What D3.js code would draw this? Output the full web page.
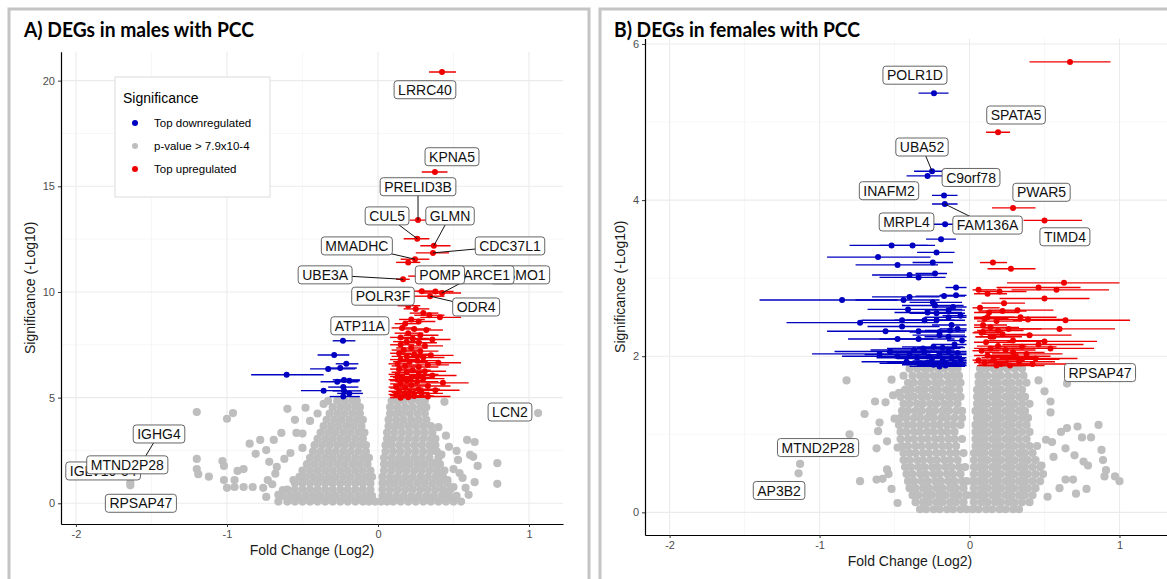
<!DOCTYPE html>
<html>
<head>
<meta charset="utf-8">
<script src="https://cdn.jsdelivr.net/npm/d3@7"></script>
<style>
body { margin: 0; background: #fff; }
svg { display: block; }
</style>
</head>
<body>
<svg id="chart" width="1167" height="579"></svg>
<script>
// ---------- data ----------
// colored genes: [fold change, significance, CI low, CI high]
const redA = [
  [0.424,20.41,0.338,0.517],[0.377,15.68,0.29,0.46],[0.265,13.4,0.21,0.325],[0.26,12.52,0.17,0.34],
  [0.37,12.19,0.28,0.48],[0.364,11.85,0.25,0.47],[0.245,11.55,0.15,0.34],[0.2,11.4,0.12,0.28],
  [0.166,10.6,0.12,0.21],[0.29,10.04,0.2,0.37],[0.345,9.8,0.24,0.44],[0.424,9.95,0.3,0.55],
  [0.38,10.02,0.26,0.5],[0.3,10.75,0.2,0.4],
  [0.2,9.35,0.13,0.28],[0.25,9.2,0.17,0.34],[0.3,9.0,0.21,0.4],[0.34,8.9,0.24,0.44],[0.41,8.8,0.28,0.55],
  [0.22,8.7,0.14,0.31],[0.27,8.6,0.17,0.38],[0.18,8.5,0.11,0.27],[0.16,8.3,0.09,0.25],[0.24,8.25,0.14,0.35],
  [0.32,8.2,0.22,0.43],[0.2,8.05,0.11,0.3],[0.28,7.95,0.17,0.4],[0.15,7.85,0.08,0.23],[0.23,7.8,0.13,0.34],
  [0.36,7.75,0.24,0.48],[0.19,7.65,0.1,0.29],[0.27,7.6,0.16,0.39],[0.15,7.5,0.08,0.24],[0.31,7.45,0.2,0.43],
  [0.22,7.35,0.12,0.33],[0.17,7.25,0.09,0.27],[0.28,7.2,0.17,0.4],[0.14,7.1,0.08,0.22],[0.24,7.05,0.13,0.36],
  [0.35,7.0,0.22,0.5],[0.19,6.95,0.09,0.3],[0.3,6.9,0.18,0.44],[0.15,6.8,0.08,0.25],[0.26,6.75,0.14,0.39],
  [0.21,6.7,0.1,0.33],[0.4,6.65,0.26,0.55],[0.13,6.6,0.07,0.21],[0.33,6.55,0.2,0.47],[0.18,6.5,0.09,0.29],
  [0.27,6.45,0.15,0.4],[0.14,6.35,0.08,0.24],[0.23,6.3,0.12,0.35],[0.31,6.25,0.18,0.45],[0.19,6.2,0.09,0.31],
  [0.13,6.1,0.07,0.21],[0.27,6.1,0.15,0.4],[0.36,6.05,0.22,0.52],[0.16,6.0,0.08,0.27],[0.22,5.95,0.1,0.35],
  [0.3,5.9,0.17,0.44],[0.13,5.85,0.07,0.23],[0.19,5.8,0.08,0.31],[0.26,5.75,0.13,0.4],[0.43,5.7,0.28,0.6],
  [0.15,5.65,0.08,0.26],[0.22,5.6,0.1,0.35],[0.33,5.55,0.19,0.48],[0.12,5.5,0.07,0.2],[0.18,5.45,0.08,0.3],
  [0.27,5.4,0.14,0.41],[0.38,5.35,0.23,0.54],[0.14,5.3,0.07,0.25],[0.21,5.25,0.09,0.34],[0.29,5.2,0.16,0.43],
  [0.12,5.15,0.07,0.21],[0.17,5.1,0.08,0.28],[0.24,5.08,0.12,0.37],[0.33,5.05,0.19,0.48],[0.2,5.02,0.09,0.32],
  [0.15,5.0,0.08,0.25]
];
const blueA = [
  [-0.232,7.69,-0.3,-0.15],[-0.29,7.02,-0.4,-0.19],[-0.21,6.6,-0.28,-0.13],[-0.33,6.36,-0.45,-0.15],
  [-0.25,6.4,-0.34,-0.14],[-0.605,6.08,-0.84,-0.36],[-0.27,5.75,-0.38,-0.13],[-0.225,5.84,-0.3,-0.12],
  [-0.19,5.8,-0.26,-0.12],[-0.36,5.33,-0.51,-0.23],[-0.23,5.5,-0.33,-0.13],[-0.225,5.32,-0.3,-0.11],
  [-0.19,5.2,-0.27,-0.1],[-0.23,5.05,-0.32,-0.12]
];
// grey genes, dense core per row: [significance, [fold changes]]
const greyRowsA = [
  [0.08,[-0.66,-0.6,-0.55,-0.5,-0.45,-0.4,-0.35,-0.3,-0.25,-0.2,-0.15,-0.1,-0.06,-0.02,0.02,0.06,0.1,0.15,0.2,0.25,0.3,0.35,0.4,0.45,0.5,0.55]],
  [0.35,[-0.63,-0.58,-0.53,-0.48,-0.43,-0.38,-0.33,-0.28,-0.23,-0.18,-0.13,-0.08,-0.04,0.03,0.07,0.12,0.17,0.22,0.27,0.32,0.37,0.42,0.47,0.52]],
  [0.65,[-0.6,-0.55,-0.5,-0.45,-0.4,-0.35,-0.3,-0.25,-0.2,-0.15,-0.1,-0.05,0.03,0.08,0.13,0.18,0.23,0.28,0.33,0.38,0.43,0.48]],
  [0.95,[-0.55,-0.5,-0.45,-0.4,-0.35,-0.3,-0.25,-0.2,-0.15,-0.1,-0.05,0.03,0.07,0.11,0.16,0.21,0.26,0.31,0.36,0.41,0.46]],
  [1.25,[-0.52,-0.48,-0.43,-0.38,-0.33,-0.28,-0.23,-0.18,-0.13,-0.08,-0.04,0.03,0.08,0.13,0.18,0.23,0.28,0.33,0.38,0.43]],
  [1.55,[-0.5,-0.45,-0.4,-0.35,-0.3,-0.25,-0.2,-0.15,-0.1,-0.05,0.04,0.09,0.14,0.19,0.24,0.29,0.34,0.39,0.44]],
  [1.85,[-0.47,-0.42,-0.37,-0.32,-0.27,-0.22,-0.17,-0.12,-0.07,0.04,0.08,0.12,0.16,0.21,0.26,0.31,0.36,0.41]],
  [2.15,[-0.45,-0.4,-0.35,-0.3,-0.25,-0.2,-0.15,-0.1,-0.06,0.04,0.09,0.14,0.19,0.24,0.29,0.34,0.4]],
  [2.45,[-0.43,-0.38,-0.33,-0.28,-0.23,-0.18,-0.13,-0.08,0.05,0.1,0.15,0.2,0.25,0.3,0.35,0.39]],
  [2.75,[-0.42,-0.37,-0.32,-0.27,-0.22,-0.17,-0.12,-0.08,0.05,0.09,0.14,0.19,0.24,0.29,0.34,0.38]],
  [3.05,[-0.4,-0.35,-0.3,-0.25,-0.2,-0.15,-0.1,0.06,0.1,0.15,0.2,0.25,0.3,0.35,0.38]],
  [3.35,[-0.38,-0.33,-0.28,-0.23,-0.18,-0.13,-0.09,0.06,0.11,0.16,0.21,0.26,0.31,0.36]],
  [3.65,[-0.36,-0.31,-0.26,-0.21,-0.16,-0.11,0.07,0.11,0.15,0.2,0.25,0.3,0.35]],
  [3.95,[-0.34,-0.29,-0.24,-0.19,-0.14,-0.1,0.07,0.12,0.17,0.22,0.27,0.32]],
  [4.25,[-0.32,-0.27,-0.22,-0.17,-0.12,0.08,0.12,0.16,0.21,0.26,0.31]],
  [4.55,[-0.3,-0.25,-0.2,-0.15,-0.12,0.08,0.13,0.18,0.23,0.28,0.32]],
  [4.85,[-0.33,-0.27,-0.22,-0.17,-0.14,0.09,0.13,0.17,0.22,0.27,0.31]]
];
const greyOutA = [
  [-1.2,4.32],[-1.0,4.0],[-0.96,4.27],[-0.6,4.47],[-0.55,3.95],[-0.48,4.52],[-0.36,4.7],[-0.64,3.33],
  [-0.54,3.33],[-0.85,2.82],[-0.78,3.0],[-0.69,3.0],[-0.74,2.52],[-0.81,2.34],[-1.2,2.1],[-1.03,2.0],
  [-1.2,1.62],[-1.19,1.38],[-1.12,1.26],[-1.02,1.77],[-0.93,1.53],[-0.89,1.62],[-1.02,1.1],[-0.95,1.1],
  [-1.0,0.73],[-0.95,0.77],[-0.89,0.77],[-0.83,0.77],[-0.76,0.73],[-0.74,0.3],[-0.73,1.1],[-0.72,1.96],
  [-0.67,1.72],[-0.63,0.63],[-0.56,1.1],[-0.58,2.38],[-0.5,2.62],[-0.68,1.4],[-0.62,2.1],[-0.66,0.4],
  [-0.7,0.9],[-0.5,3.3],[-0.45,3.9],[-0.4,4.25],
  [0.44,4.8],[0.4,3.6],[0.47,2.67],[0.59,3.0],[0.64,2.9],[0.52,2.48],[0.61,2.29],[0.63,2.2],[0.53,2.05],
  [0.66,1.77],[0.79,1.9],[0.5,1.62],[0.54,1.43],[0.64,1.0],[0.79,0.92],[0.58,0.73],[0.5,0.77],[0.46,1.1],
  [0.41,1.43],[0.37,1.9],[0.45,3.2],[0.42,2.3],[0.56,1.2],[0.6,0.4],[0.45,0.45],
  [1.06,4.27],[-1.64,0.98],[-1.64,0.85],[-1.58,1.75]
];

const redB = [
  [0.67,5.77,0.4,0.94],[0.19,4.87,0.11,0.27],[0.29,3.9,0.15,0.44],[0.5,3.74,0.36,0.75],
  [0.156,3.2,0.07,0.25],[0.276,3.12,0.12,0.44],[0.63,2.94,0.25,1.0],[0.46,2.88,0.18,0.74],
  [0.58,2.85,0.28,0.93],[0.2,2.83,0.06,0.38],[0.12,2.8,0.03,0.25],[0.5,2.74,0.2,0.8],
  [0.23,2.68,0.08,0.37],[0.13,2.56,0.03,0.33],[0.22,2.58,0.06,0.38],[0.32,2.59,0.13,0.56],
  [0.12,2.5,0.03,0.3],[0.34,2.5,0.13,0.58],[0.39,2.47,0.17,0.64],[0.64,2.46,0.29,1.07],
  [0.18,2.45,0.05,0.35],[0.09,2.4,0.03,0.25],[0.14,2.37,0.03,0.33],[0.6,2.35,0.27,0.97],
  [0.19,2.33,0.05,0.36],[0.09,2.31,0.03,0.22],[0.16,2.25,0.04,0.35],[0.29,2.2,0.1,0.5],
  [0.5,2.19,0.25,0.85],[0.46,2.15,0.22,0.76],[0.54,2.1,0.28,0.83],[0.44,1.97,0.2,0.72],
  [0.14,2.1,0.03,0.32],[0.29,2.05,0.1,0.5],[0.12,2.01,0.03,0.3],
  [0.1,1.92,0.03,0.26],[0.16,1.95,0.04,0.35],[0.21,1.9,0.06,0.4],[0.25,1.98,0.08,0.46],
  [0.33,1.93,0.12,0.57],[0.38,2.03,0.15,0.62],[0.08,2.07,0.02,0.2],[0.19,2.13,0.05,0.38],
  [0.24,2.08,0.07,0.44],[0.35,2.12,0.14,0.58],[0.11,2.18,0.03,0.28],[0.27,1.88,0.09,0.5],
  [0.42,1.9,0.18,0.7],[0.06,1.95,0.02,0.18],[0.18,1.88,0.05,0.36],[0.31,2.0,0.11,0.54],
  [0.14,2.25,0.04,0.3],[0.08,2.3,0.02,0.2],[0.22,2.28,0.07,0.42],[0.4,2.27,0.16,0.68],
  [0.26,2.35,0.08,0.48],[0.1,2.48,0.03,0.26],[0.07,2.62,0.02,0.2],[0.06,2.85,0.02,0.18],
  [0.35,1.96,0.14,0.6]
];
const blueB = [
  [-0.237,5.37,-0.34,-0.14],[-0.25,4.37,-0.37,-0.16],[-0.28,4.31,-0.42,-0.18],[-0.17,4.06,-0.25,-0.08],
  [-0.165,3.95,-0.25,-0.08],[-0.163,3.69,-0.24,-0.1],[-0.19,3.5,-0.29,-0.09],[-0.52,3.42,-0.8,-0.28],
  [-0.38,3.42,-0.6,-0.23],[-0.22,3.33,-0.35,-0.1],[-0.61,3.27,-0.95,-0.26],[-0.245,3.2,-0.38,-0.11],
  [-0.48,3.17,-0.76,-0.21],[-0.23,3.06,-0.36,-0.15],[-0.4,3.04,-0.65,-0.23],[-0.34,3.01,-0.6,-0.16],
  [-0.09,2.88,-0.16,-0.02],[-0.09,2.78,-0.2,-0.02],[-0.85,2.72,-1.4,-0.48],[-0.44,2.72,-0.76,-0.2],
  [-0.4,2.76,-0.65,-0.2],[-0.17,2.77,-0.36,-0.03],[-0.245,2.69,-0.4,-0.05],[-0.23,2.65,-0.45,-0.04],
  [-0.11,2.63,-0.25,-0.02],[-0.41,2.6,-0.68,-0.05],[-0.28,2.56,-0.5,-0.05],[-0.22,2.55,-0.4,-0.03],
  [-0.14,2.59,-0.3,-0.03],[-0.73,2.43,-1.22,-0.21],[-0.45,2.46,-0.72,-0.15],[-0.45,2.38,-0.68,-0.2],
  [-0.3,2.46,-0.5,-0.1],[-0.22,2.46,-0.42,-0.03],[-0.14,2.5,-0.3,-0.02],[-0.56,2.32,-0.95,-0.3],
  [-0.34,2.32,-0.55,-0.12],[-0.2,2.31,-0.4,-0.03],[-0.13,2.33,-0.3,-0.02],[-0.48,2.22,-0.81,-0.24],
  [-0.34,2.22,-0.6,-0.1],[-0.2,2.27,-0.38,-0.03],[-0.14,2.25,-0.3,-0.02],[-0.31,2.1,-0.55,-0.06],
  [-0.24,2.12,-0.45,-0.04],[-0.18,2.11,-0.35,-0.03],[-0.6,2.03,-1.05,-0.29],[-0.48,2.0,-0.85,-0.2],
  [-0.28,1.92,-0.55,-0.05],[-0.15,1.9,-0.32,-0.02],
  [-0.4,2.02,-0.7,-0.12],[-0.35,1.98,-0.62,-0.1],[-0.3,2.05,-0.55,-0.06],[-0.25,1.97,-0.48,-0.03],
  [-0.2,2.02,-0.4,-0.02],[-0.12,1.98,-0.3,-0.02],[-0.08,2.04,-0.22,-0.02],[-0.1,1.92,-0.25,-0.02],
  [-0.18,1.94,-0.38,-0.02],[-0.22,1.9,-0.45,-0.03],[-0.33,1.91,-0.6,-0.08],[-0.42,1.93,-0.72,-0.15],
  [-0.27,2.0,-0.5,-0.05],[-0.14,2.06,-0.3,-0.02],[-0.06,1.95,-0.18,-0.02],[-0.16,1.88,-0.35,-0.02],
  [-0.2,1.87,-0.4,-0.03],[-0.37,2.08,-0.66,-0.1],[-0.53,2.06,-0.9,-0.25],[-0.24,1.89,-0.45,-0.05],
  [-0.1,2.15,-0.25,-0.02],[-0.12,2.4,-0.25,-0.02],[-0.08,2.35,-0.2,-0.02],[-0.06,2.52,-0.18,-0.02],
  [-0.05,2.2,-0.15,-0.02]
];
const greyRowsB = [
  [0.04,[-0.33,-0.29,-0.24,-0.2,-0.15,-0.11,-0.06,-0.02,0.02,0.06,0.11,0.15,0.2,0.24,0.29,0.33]],
  [0.13,[-0.36,-0.31,-0.27,-0.22,-0.18,-0.13,-0.09,-0.04,0.03,0.08,0.12,0.17,0.21,0.26,0.3,0.35,0.4]],
  [0.22,[-0.38,-0.34,-0.29,-0.25,-0.2,-0.16,-0.11,-0.07,-0.02,0.02,0.06,0.1,0.15,0.19,0.24,0.28,0.33,0.37,0.42]],
  [0.31,[-0.4,-0.36,-0.31,-0.27,-0.22,-0.18,-0.13,-0.09,-0.04,0.03,0.08,0.12,0.17,0.21,0.26,0.3,0.35,0.39,0.44]],
  [0.40,[-0.41,-0.37,-0.32,-0.28,-0.23,-0.19,-0.14,-0.1,-0.05,-0.02,0.02,0.06,0.1,0.15,0.19,0.24,0.28,0.33,0.37,0.42,0.47]],
  [0.49,[-0.42,-0.38,-0.33,-0.29,-0.24,-0.2,-0.15,-0.11,-0.06,0.03,0.08,0.12,0.17,0.21,0.26,0.3,0.35,0.39,0.44,0.49]],
  [0.58,[-0.43,-0.39,-0.34,-0.3,-0.25,-0.21,-0.16,-0.12,-0.07,-0.03,0.03,0.06,0.1,0.15,0.19,0.24,0.28,0.33,0.37,0.42,0.47]],
  [0.67,[-0.44,-0.4,-0.35,-0.31,-0.26,-0.22,-0.17,-0.13,-0.08,0.03,0.08,0.12,0.17,0.21,0.26,0.3,0.35,0.39,0.44]],
  [0.76,[-0.44,-0.4,-0.36,-0.31,-0.27,-0.22,-0.18,-0.13,-0.09,-0.04,0.03,0.06,0.1,0.15,0.19,0.24,0.28,0.33,0.37,0.42]],
  [0.85,[-0.45,-0.41,-0.36,-0.32,-0.27,-0.23,-0.18,-0.14,-0.09,0.04,0.08,0.12,0.17,0.21,0.26,0.3,0.35,0.4,0.45]],
  [0.94,[-0.46,-0.41,-0.37,-0.32,-0.28,-0.23,-0.19,-0.14,-0.1,-0.05,0.04,0.06,0.1,0.15,0.19,0.24,0.28,0.33,0.38]],
  [1.03,[-0.46,-0.42,-0.37,-0.33,-0.28,-0.24,-0.19,-0.15,-0.1,0.04,0.08,0.12,0.17,0.21,0.26,0.3,0.35,0.4]],
  [1.12,[-0.47,-0.42,-0.38,-0.33,-0.29,-0.24,-0.2,-0.15,-0.11,-0.06,0.04,0.06,0.1,0.15,0.19,0.24,0.28,0.33,0.38]],
  [1.21,[-0.46,-0.42,-0.37,-0.33,-0.28,-0.24,-0.19,-0.15,-0.1,-0.05,0.05,0.08,0.12,0.17,0.21,0.26,0.3,0.35,0.39]],
  [1.30,[-0.45,-0.41,-0.36,-0.32,-0.27,-0.23,-0.18,-0.14,-0.09,-0.05,0.04,0.06,0.1,0.15,0.19,0.24,0.28,0.33,0.37]],
  [1.39,[-0.44,-0.4,-0.35,-0.31,-0.26,-0.22,-0.17,-0.13,-0.08,0.05,0.08,0.12,0.17,0.21,0.26,0.3,0.35,0.4]],
  [1.48,[-0.46,-0.41,-0.37,-0.32,-0.28,-0.23,-0.19,-0.14,-0.1,-0.06,0.05,0.06,0.1,0.15,0.19,0.24,0.28,0.33,0.37]],
  [1.57,[-0.43,-0.39,-0.34,-0.3,-0.25,-0.21,-0.16,-0.12,-0.07,0.05,0.08,0.12,0.17,0.21,0.26,0.3,0.35]],
  [1.66,[-0.41,-0.37,-0.32,-0.28,-0.23,-0.19,-0.14,-0.1,-0.06,0.06,0.1,0.15,0.19,0.24,0.28,0.33,0.38]],
  [1.75,[-0.44,-0.38,-0.33,-0.29,-0.24,-0.2,-0.15,-0.11,-0.07,0.06,0.08,0.12,0.17,0.21,0.26,0.31,0.36]],
  [1.84,[-0.4,-0.35,-0.3,-0.26,-0.21,-0.17,-0.12,-0.08,0.07,0.11,0.16,0.2,0.25,0.3,0.35]]
];
const greyOutB = [
  [-0.82,1.69],[-0.7,1.26],[-0.63,1.42],[-0.56,1.41],[-0.51,1.5],[-0.47,1.53],[-0.6,1.15],[-0.61,1.04],
  [-0.55,0.91],[-0.62,0.82],[-0.48,0.83],[-0.55,0.55],[-0.54,0.49],[-0.62,0.42],[-0.58,0.43],[-0.73,0.4],
  [-0.48,0.12],[-0.8,1.0],[-0.52,1.7],[-0.5,1.2],[-0.52,0.3],
  [0.54,1.42],[0.46,1.69],[0.65,1.08],[0.72,1.1],[0.75,0.96],[0.81,0.96],[0.86,1.12],[0.88,0.8],
  [0.89,0.67],[0.79,0.6],[0.91,0.54],[0.9,0.46],[0.97,0.46],[1.0,0.4],[0.7,0.73],[0.76,0.65],
  [0.64,0.42],[0.69,0.42],[0.71,0.24],[0.78,0.3],[0.6,0.31],[0.61,1.03],[0.55,0.9],[0.64,0.82],
  [0.54,1.28],[0.51,0.93],[0.56,0.71],[0.5,1.55],[0.48,0.6],[0.52,0.2],
  [0.65,1.65],[-1.13,0.62],[-1.14,0.5]
];

// labels: [gene, point fc, point sig, box fc, box sig, draw segment]
const labelsA = [
  ["LRRC40",0.424,20.41,0.311,19.57,0],["KPNA5",0.377,15.68,0.49,16.4,0],
  ["PRELID3B",0.265,13.4,0.265,14.98,1],["CUL5",0.26,12.52,0.06,13.6,1],
  ["GLMN",0.37,12.19,0.477,13.6,1],["MMADHC",0.245,11.55,-0.14,12.18,1],
  ["CDC37L1",0.364,11.85,0.874,12.18,1],["UBE3A",0.166,10.6,-0.35,10.81,1],
  ["MSMO1",0.38,10.02,0.94,10.81,0],["SMARCE1",0.424,9.95,0.65,10.81,1],
  ["POMP",0.3,10.75,0.41,10.81,0],["POLR3F",0.29,10.04,0.033,9.8,0],
  ["ODR4",0.345,9.8,0.65,9.29,1],["ATP11A",-0.232,7.69,-0.12,8.4,0],
  ["LCN2",1.06,4.27,0.874,4.32,0],["IGHG4",-1.58,1.75,-1.45,3.28,1],
  ["IGLV10-54",-1.64,0.98,-1.82,1.53,0],["MTND2P28",-1.64,0.85,-1.66,1.82,0],
  ["RPSAP47",-1.64,0.9,-1.57,0.0,0]
];
const labelsB = [
  ["POLR1D",-0.237,5.37,-0.364,5.6,0],["SPATA5",0.19,4.87,0.31,5.09,0],
  ["UBA52",-0.25,4.37,-0.317,4.68,1],["C9orf78",-0.28,4.31,0.01,4.29,0],
  ["INAFM2",-0.17,4.06,-0.537,4.12,0],["PWAR5",0.29,3.9,0.48,4.1,0],
  ["MRPL4",-0.163,3.69,-0.42,3.72,0],["FAM136A",-0.165,3.95,0.12,3.68,1],
  ["TIMD4",0.5,3.74,0.636,3.53,0],["RPSAP47",0.65,1.65,0.87,1.79,0],
  ["MTND2P28",-1.13,0.62,-1.01,0.83,0],["AP3B2",-1.14,0.5,-1.27,0.28,0]
];

const xTicks = [-2, -1, 0, 1];
const xMinor = [-1.5, -0.5, 0.5];
const yTicksA = [0, 5, 10, 15, 20];
const yMinorA = [2.5, 7.5, 12.5, 17.5];
const yTicksB = [0, 2, 4, 6];
const yMinorB = [1, 3, 5];
const legendItems = ["Top downregulated", "p-value > 7.9x10-4", "Top upregulated"];

const RED = "#ee0000", BLUE = "#0000c0", GREY = "#bebebe";
const svg = d3.select("#chart");

function drawPanel(p) {
  const g = svg.append("g");
  // frame and title
  g.append("rect").attr("x", p.frame[0]).attr("y", 9).attr("width", p.frame[1]).attr("height", 600)
    .attr("fill", "none").attr("stroke", "#c4c4c4").attr("stroke-width", 3);
  g.append("text").attr("x", p.titleX).attr("y", 37).text(p.title)
    .attr("font-family", "Lato, 'Open Sans', sans-serif").attr("font-weight", 700)
    .attr("font-size", 20).attr("textLength", p.titleW).attr("lengthAdjust", "spacingAndGlyphs");

  const x = d3.scaleLinear().domain(p.xd).range(p.xr);
  const y = d3.scaleLinear().domain(p.yd).range(p.yr);
  const clip = "clip" + p.id;
  g.append("clipPath").attr("id", clip).append("rect")
    .attr("x", p.xr[0]).attr("y", p.yr[1]).attr("width", p.xr[1] - p.xr[0]).attr("height", p.yr[0] - p.yr[1]);

  // grid
  const grid = g.append("g");
  p.xMinor.forEach(v => grid.append("line").attr("x1", x(v)).attr("x2", x(v)).attr("y1", p.yr[0]).attr("y2", p.yr[1]).attr("stroke", "#f3f3f3").attr("stroke-width", 0.7));
  p.yMinor.forEach(v => grid.append("line").attr("y1", y(v)).attr("y2", y(v)).attr("x1", p.xr[0]).attr("x2", p.xr[1]).attr("stroke", "#f3f3f3").attr("stroke-width", 0.7));
  p.xTicks.forEach(v => grid.append("line").attr("x1", x(v)).attr("x2", x(v)).attr("y1", p.yr[0]).attr("y2", p.yr[1]).attr("stroke", "#ebebeb").attr("stroke-width", 1.1));
  p.yTicks.forEach(v => grid.append("line").attr("y1", y(v)).attr("y2", y(v)).attr("x1", p.xr[0]).attr("x2", p.xr[1]).attr("stroke", "#ebebeb").attr("stroke-width", 1.1));

  const plot = g.append("g").attr("clip-path", `url(#${clip})`);
  // grey points
  const greyPts = [];
  p.greyRows.forEach(r => r[1].forEach(f => greyPts.push([f, r[0]])));
  p.greyOut.forEach(d => greyPts.push(d));
  plot.selectAll(".grey").data(greyPts).enter().append("circle")
    .attr("cx", d => x(d[0])).attr("cy", d => y(d[1])).attr("r", p.greyR).attr("fill", GREY);

  // error bars + points
  [[p.blue, BLUE], [p.red, RED]].forEach(([data, col]) => {
    plot.selectAll(null).data(data).enter().append("line")
      .attr("x1", d => x(d[2])).attr("x2", d => x(d[3]))
      .attr("y1", d => y(d[1])).attr("y2", d => y(d[1]))
      .attr("stroke", col).attr("stroke-width", 1.4);
    plot.selectAll(null).data(data).enter().append("circle")
      .attr("cx", d => x(d[0])).attr("cy", d => y(d[1])).attr("r", 3).attr("fill", col);
  });

  // axes
  const fmt = d => String(d);
  const xAxis = d3.axisBottom(x).tickValues(p.xTicks).tickFormat(fmt).tickSize(3).tickSizeOuter(0).tickPadding(3);
  const yAxis = d3.axisLeft(y).tickValues(p.yTicks).tickFormat(fmt).tickSize(3).tickSizeOuter(0).tickPadding(3);
  [g.append("g").attr("transform", `translate(0,${p.yr[0]})`).call(xAxis),
   g.append("g").attr("transform", `translate(${p.xr[0]},0)`).call(yAxis)].forEach(a => {
    a.select(".domain").attr("stroke", "#000").attr("stroke-width", 1.2);
    a.selectAll(".tick line").attr("stroke", "#333");
    a.selectAll(".tick text").attr("fill", "#4d4d4d").attr("font-size", 11)
      .attr("font-family", "'Liberation Sans', Arial, sans-serif");
  });
  g.append("text").attr("x", (p.xr[0] + p.xr[1]) / 2).attr("y", p.yr[0] + 31)
    .attr("text-anchor", "middle").attr("font-size", 14).attr("fill", "#1a1a1a")
    .attr("font-family", "'Liberation Sans', Arial, sans-serif").text("Fold Change (Log2)");
  g.append("text").attr("transform", `translate(${p.yLabX},${(p.yr[0] + p.yr[1]) / 2}) rotate(-90)`)
    .attr("text-anchor", "middle").attr("font-size", 14).attr("fill", "#1a1a1a")
    .attr("font-family", "'Liberation Sans', Arial, sans-serif").text("Significance (-Log10)");

  // labels
  const lab = g.append("g").attr("clip-path", `url(#${clip})`);
  p.labels.filter(d => d[5]).forEach(d => {
    lab.append("line").attr("x1", x(d[1])).attr("y1", y(d[2])).attr("x2", x(d[3])).attr("y2", y(d[4]))
      .attr("stroke", "#111").attr("stroke-width", 1);
  });
  p.labels.forEach(d => {
    const bg = lab.append("g").attr("transform", `translate(${x(d[3])},${y(d[4])})`);
    const r = bg.append("rect");
    const t = bg.append("text").attr("text-anchor", "middle").attr("dy", "0.36em")
      .attr("font-size", 14).attr("font-family", "'Liberation Sans', Arial, sans-serif")
      .attr("fill", "#111").text(d[0]);
    const w = t.node().getComputedTextLength() + 8;
    r.attr("x", -w / 2).attr("y", -9).attr("width", w).attr("height", 18).attr("rx", 3)
      .attr("fill", "#fff").attr("stroke", "#555").attr("stroke-width", 0.9);
  });
}

drawPanel({
  id: "A", frame: [9, 580], title: "A) DEGs in males with PCC", titleX: 24, titleW: 230,
  xd: [-2.099, 1.225], xr: [61, 563], yd: [-0.98, 21.37], yr: [524, 51.7], yLabX: 35, greyR: 4.1,
  xTicks, xMinor, yTicks: yTicksA, yMinor: yMinorA,
  greyRows: greyRowsA, greyOut: greyOutA, red: redA, blue: blueA, labels: labelsA
});
drawPanel({
  id: "B", frame: [600, 620], title: "B) DEGs in females with PCC", titleX: 614, titleW: 246,
  xd: [-2.164, 1.37], xr: [645, 1175], yd: [-0.29, 6.07], yr: [535, 38.5], yLabX: 625, greyR: 4.1,
  xTicks, xMinor, yTicks: yTicksB, yMinor: yMinorB,
  greyRows: greyRowsB, greyOut: greyOutB, red: redB, blue: blueB, labels: labelsB
});

// legend (panel A)
const leg = svg.append("g").attr("transform", "translate(115,77)");
leg.append("rect").attr("width", 155).attr("height", 120).attr("fill", "#fff")
  .attr("stroke", "#dcdcdc").attr("stroke-width", 1);
leg.append("text").attr("x", 8).attr("y", 26).attr("font-size", 14)
  .attr("font-family", "'Liberation Sans', Arial, sans-serif").text("Significance");
const legCol = d3.scaleOrdinal().domain(legendItems).range([BLUE, GREY, RED]);
const legY = d3.scalePoint().domain(legendItems).range([46, 92]);
legendItems.forEach(k => {
  leg.append("circle").attr("cx", 20).attr("cy", legY(k)).attr("r", 3).attr("fill", legCol(k));
  leg.append("text").attr("x", 39).attr("y", legY(k)).attr("dy", "0.35em").attr("font-size", 11.5)
    .attr("font-family", "'Liberation Sans', Arial, sans-serif").text(k);
});
</script>
</body>
</html>
